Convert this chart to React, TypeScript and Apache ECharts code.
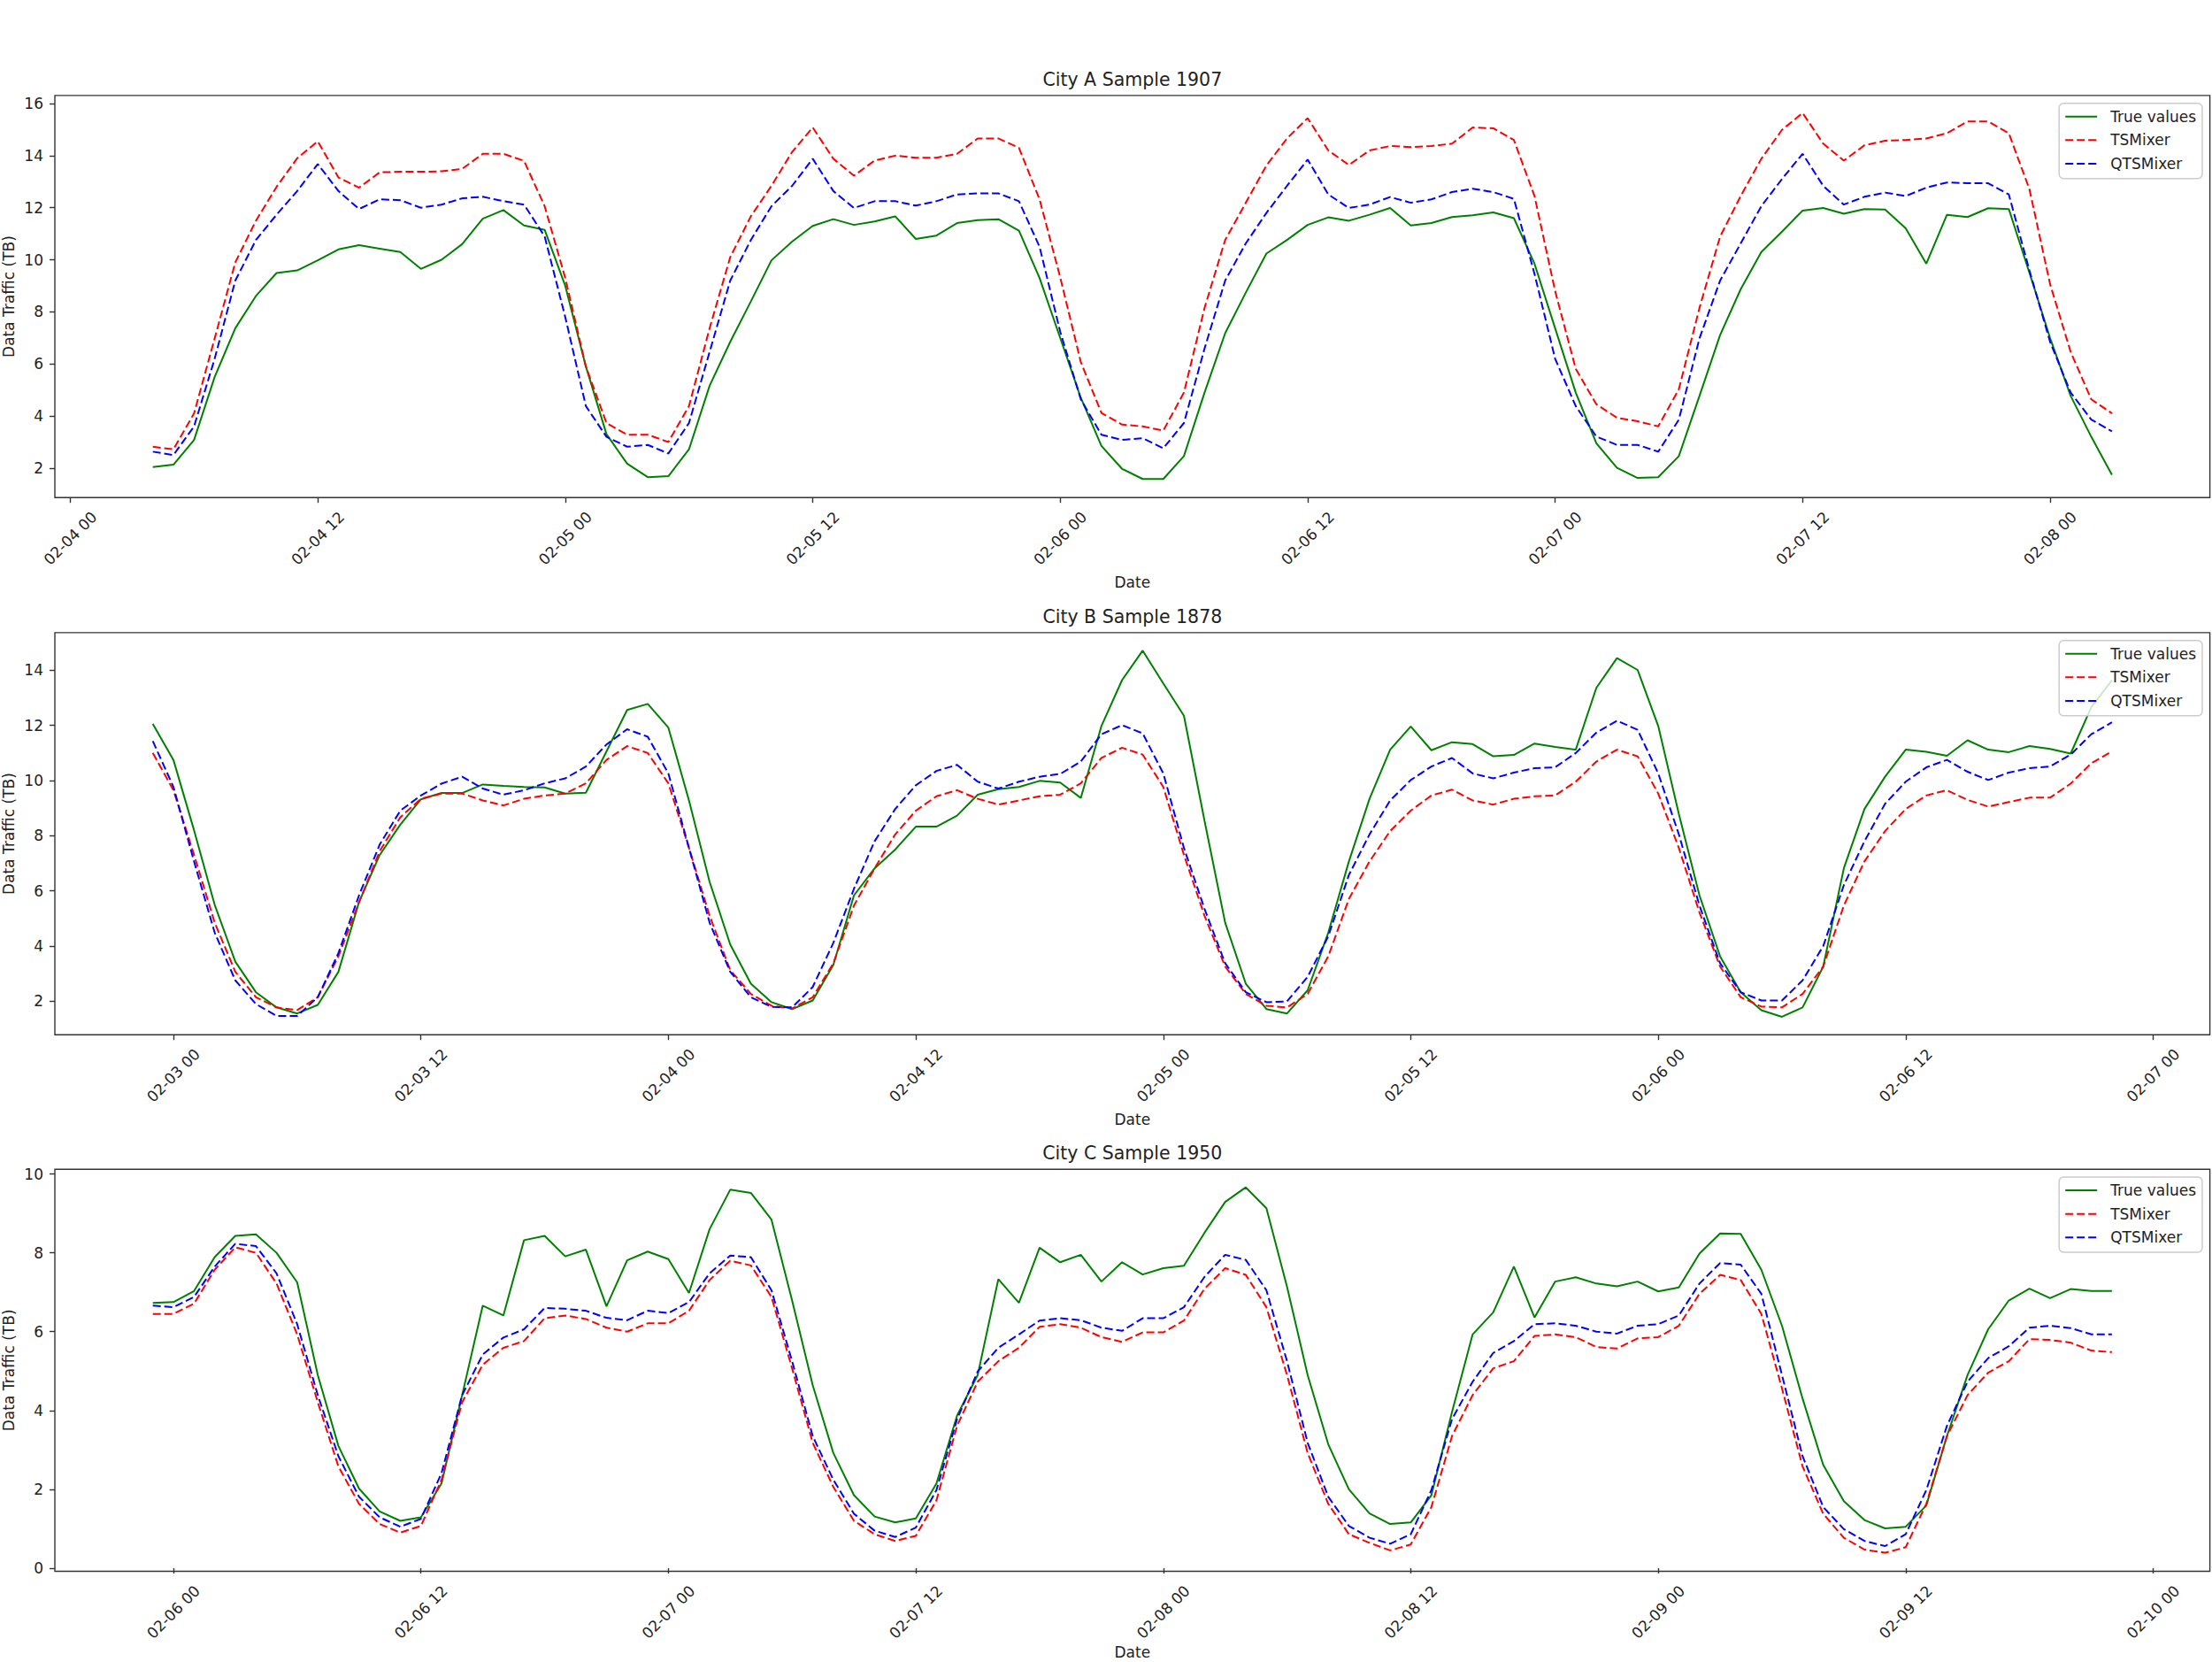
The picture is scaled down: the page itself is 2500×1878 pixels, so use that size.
import React, { useEffect, useRef } from 'react';
import * as echarts from 'echarts';

const FONT = 'DejaVu Sans';
const SERIES_NAMES = ['True values', 'TSMixer', 'QTSMixer'];
const SERIES_COLORS = ['#008000', '#ff0000', '#0000ff'];
const PANEL_TITLES = ['City A Sample 1907', 'City B Sample 1878', 'City C Sample 1950'];
// first hourly timestamp of each panel, in hours after 02-01 00:00
const START_HOURS = [76, 47, 119];
const Y_TICKS = [
  [2, 4, 6, 8, 10, 12, 14, 16],
  [2, 4, 6, 8, 10, 12, 14],
  [0, 2, 4, 6, 8, 10],
];
const Y_LIMITS = [
  [0.868, 16.31],
  [0.79, 15.36],
  [-0.08, 10.12],
];

// ---- City A ----
const A_TRUE = [
  2.04, 2.13, 3.08, 5.5, 7.37, 8.61, 9.49, 9.59, 9.98, 10.4,
  10.56, 10.43, 10.3, 9.65, 10.0, 10.6, 11.58, 11.91, 11.32, 11.15,
  9.0, 5.9, 3.3, 2.17, 1.65, 1.69, 2.72, 5.16, 6.85, 8.4,
  9.98, 10.7, 11.3, 11.56, 11.34, 11.47, 11.67, 10.8, 10.93, 11.41,
  11.52, 11.56, 11.12, 9.3, 7.0, 4.7, 2.85,
  1.97, 1.58, 1.58, 2.46, 4.9, 7.18, 8.74, 10.24, 10.76, 11.34,
  11.63, 11.5, 11.73, 11.99, 11.32, 11.41, 11.64, 11.71, 11.82, 11.6,
  9.85, 7.37, 4.9, 2.95, 2.01, 1.62, 1.65, 2.46, 4.77, 7.11,
  8.87, 10.3, 11.08, 11.89, 11.99, 11.77, 11.95, 11.93, 11.21, 9.85,
  11.73, 11.64, 11.98, 11.95, 9.5, 7.0, 4.77, 3.2, 1.74,
];
const A_TSMIXER = [
  2.82, 2.72, 4.1, 6.98, 9.9, 11.5, 12.8, 13.9, 14.55, 13.16,
  12.77, 13.36, 13.38, 13.38, 13.4, 13.49, 14.07, 14.07, 13.8, 12.06,
  9.3, 5.9, 3.73, 3.28, 3.28, 3.0, 4.38, 7.37, 10.1, 11.67,
  12.84, 14.14, 15.08, 13.88, 13.23, 13.81, 14.0, 13.92, 13.92, 14.07,
  14.66, 14.66, 14.3, 12.32, 9.33, 6.07, 4.12,
  3.67, 3.6, 3.44, 4.9, 8.15, 10.76, 12.19, 13.62, 14.66, 15.44,
  14.2, 13.64, 14.2, 14.37, 14.33, 14.37, 14.46, 15.08, 15.05, 14.6,
  12.45, 8.8, 5.81, 4.45, 3.93, 3.8, 3.6, 5.03, 8.15, 10.89,
  12.45, 13.88, 14.99, 15.64, 14.46, 13.81, 14.4, 14.57, 14.6, 14.66,
  14.86, 15.31, 15.31, 14.86, 12.71, 9.07, 6.46, 4.64, 4.1,
];
const A_QTSMIXER = [
  2.63, 2.5, 3.6, 6.2, 9.2, 10.76, 11.73, 12.64, 13.68, 12.64,
  11.95, 12.32, 12.29, 12.0, 12.12, 12.36, 12.42, 12.25, 12.12, 10.9,
  7.8, 4.38, 3.2, 2.82, 2.89, 2.56, 3.73, 6.46, 9.2, 10.76,
  12.06, 12.84, 13.88, 12.64, 11.99, 12.25, 12.25, 12.08, 12.25, 12.51,
  12.55, 12.55, 12.25, 10.5, 7.24, 4.64, 3.28,
  3.08, 3.15, 2.76, 3.73, 6.59, 9.2, 10.63, 11.8, 12.84, 13.85,
  12.51, 11.99, 12.12, 12.41, 12.19, 12.32, 12.6, 12.73, 12.6, 12.34,
  9.46, 6.2, 4.38, 3.21, 2.89, 2.89, 2.63, 3.86, 6.98, 9.2,
  10.63, 12.06, 13.1, 14.07, 12.84, 12.12, 12.42, 12.58, 12.45, 12.77,
  12.97, 12.94, 12.94, 12.51, 9.59, 6.85, 4.9, 3.86, 3.41,
];

// ---- City B ----
const B_TRUE = [
  12.05, 10.75, 8.2, 5.5, 3.44, 2.33, 1.78, 1.56, 1.87, 3.07,
  5.6, 7.3, 8.4, 9.32, 9.55, 9.55, 9.86, 9.81, 9.77, 9.75,
  9.53, 9.56, 11.06, 12.56, 12.78, 11.92, 9.28, 6.33, 4.06, 2.64,
  1.97, 1.72, 2.03, 3.32, 5.84, 6.82, 7.5, 8.33, 8.33, 8.73,
  9.49, 9.69, 9.77, 9.99, 9.93, 9.37, 11.98,
  13.64, 14.71, 13.52, 12.35, 8.54, 4.85, 2.64, 1.72, 1.56, 2.4,
  4.49, 7.07, 9.34, 11.12, 11.96, 11.1, 11.39, 11.32, 10.88, 10.93,
  11.34, 11.22, 11.12, 13.36, 14.44, 14.01, 11.98, 8.79, 5.84, 3.63,
  2.33, 1.68, 1.44, 1.78, 3.26, 6.82, 8.97, 10.14, 11.12, 11.04,
  10.9, 11.46, 11.12, 11.03, 11.25, 11.15, 10.98, 12.66, 13.64,
];
const B_TSMIXER = [
  11.0, 9.65, 7.31, 4.85, 3.07, 2.15, 1.78, 1.68, 2.15, 3.63,
  5.59, 7.44, 8.67, 9.34, 9.53, 9.53, 9.28, 9.1, 9.34, 9.46,
  9.53, 9.9, 10.75, 11.25, 11.0, 9.9, 7.56, 5.1, 3.13, 2.27,
  1.84, 1.74, 2.15, 3.38, 5.47, 6.82, 8.05, 8.91, 9.43, 9.65,
  9.34, 9.13, 9.28, 9.43, 9.49, 9.9, 10.82,
  11.19, 10.94, 9.77, 7.31, 5.1, 3.26, 2.27, 1.84, 1.78, 2.27,
  3.63, 5.71, 7.07, 8.17, 8.91, 9.46, 9.67, 9.28, 9.13, 9.34,
  9.43, 9.46, 9.96, 10.69, 11.12, 10.88, 9.53, 7.56, 5.22, 3.26,
  2.15, 1.81, 1.78, 2.27, 3.26, 5.47, 7.07, 8.17, 8.97, 9.46,
  9.65, 9.3, 9.06, 9.22, 9.38, 9.38, 9.89, 10.63, 11.06,
];
const B_QTSMIXER = [
  11.43, 9.77, 7.07, 4.49, 2.76, 1.9, 1.47, 1.47, 2.15, 3.75,
  5.84, 7.68, 8.91, 9.46, 9.89, 10.14, 9.71, 9.49, 9.65, 9.9,
  10.08, 10.51, 11.31, 11.86, 11.59, 10.26, 7.56, 4.85, 3.07, 2.15,
  1.8, 1.78, 2.52, 4.12, 6.08, 7.8, 8.97, 9.83, 10.35, 10.57,
  9.96, 9.71, 9.96, 10.14, 10.24, 10.69, 11.68,
  12.01, 11.71, 10.26, 7.56, 5.35, 3.38, 2.33, 1.97, 2.0, 2.89,
  4.36, 6.58, 8.05, 9.28, 10.02, 10.51, 10.82, 10.26, 10.08, 10.29,
  10.45, 10.48, 11.0, 11.74, 12.17, 11.84, 10.26, 8.05, 5.47, 3.38,
  2.33, 2.03, 2.03, 2.76, 4.0, 6.21, 7.8, 9.16, 9.96, 10.48,
  10.75, 10.32, 10.02, 10.29, 10.45, 10.51, 10.94, 11.68, 12.11,
];

// ---- City C ----
const C_TRUE = [
  6.73, 6.75, 7.03, 7.89, 8.43, 8.47, 8.0, 7.25, 4.9, 3.1,
  2.02, 1.44, 1.2, 1.29, 2.15, 4.39, 6.66, 6.41, 8.32, 8.43,
  7.91, 8.08, 6.64, 7.81, 8.03, 7.84, 6.98, 8.6, 9.6, 9.52,
  8.84, 6.79, 4.64, 2.92, 1.85, 1.31, 1.16, 1.26, 2.15, 3.87,
  4.9, 7.33, 6.73, 8.13, 7.76, 7.95, 7.27,
  7.76, 7.45, 7.61, 7.67, 8.51, 9.29, 9.66, 9.13, 7.14, 4.9,
  3.14, 2.0, 1.39, 1.12, 1.16, 1.85, 3.96, 5.93, 6.49, 7.65,
  6.36, 7.27, 7.38, 7.22, 7.15, 7.27, 7.02, 7.12, 7.98, 8.49,
  8.48, 7.57, 6.15, 4.3, 2.62, 1.7, 1.22, 1.01, 1.05, 1.59,
  3.35, 4.9, 6.06, 6.79, 7.09, 6.85, 7.08, 7.03, 7.03,
];
const C_TSMIXER = [
  6.45, 6.45, 6.71, 7.57, 8.14, 8.0, 7.22, 5.93, 4.21, 2.58,
  1.63, 1.12, 0.9, 1.07, 2.24, 4.21, 5.16, 5.59, 5.76, 6.34,
  6.41, 6.32, 6.1, 6.0, 6.21, 6.21, 6.53, 7.31, 7.8, 7.68,
  6.88, 5.07, 3.18, 2.06, 1.2, 0.86, 0.69, 0.82, 1.72, 3.61,
  4.73, 5.25, 5.59, 6.12, 6.19, 6.1, 5.86,
  5.74, 5.98, 5.98, 6.28, 7.09, 7.61, 7.44, 6.62, 4.9, 2.92,
  1.63, 0.86, 0.64, 0.45, 0.6, 1.55, 3.35, 4.39, 5.07, 5.25,
  5.89, 5.93, 5.86, 5.61, 5.57, 5.83, 5.86, 6.15, 6.96, 7.44,
  7.31, 6.45, 4.56, 2.58, 1.38, 0.77, 0.47, 0.39, 0.53, 1.63,
  3.35, 4.39, 4.96, 5.25, 5.81, 5.79, 5.72, 5.52, 5.48,
];
const C_QTSMIXER = [
  6.66, 6.62, 6.88, 7.65, 8.23, 8.17, 7.48, 6.19, 4.39, 2.84,
  1.81, 1.29, 1.05, 1.25, 2.41, 4.39, 5.42, 5.85, 6.06, 6.6,
  6.58, 6.53, 6.35, 6.29, 6.53, 6.47, 6.75, 7.48, 7.93, 7.89,
  7.05, 5.25, 3.35, 2.24, 1.38, 0.95, 0.79, 1.03, 1.98, 3.78,
  4.99, 5.59, 5.93, 6.28, 6.34, 6.29, 6.1,
  6.02, 6.34, 6.34, 6.62, 7.39, 7.95, 7.82, 7.05, 5.25, 3.18,
  1.81, 1.07, 0.77, 0.62, 0.86, 1.98, 3.78, 4.73, 5.46, 5.76,
  6.19, 6.21, 6.15, 6.0, 5.95, 6.15, 6.19, 6.41, 7.22, 7.74,
  7.7, 6.96, 4.9, 2.84, 1.55, 0.99, 0.69, 0.56, 0.86, 1.98,
  3.61, 4.73, 5.33, 5.63, 6.1, 6.15, 6.09, 5.93, 5.93,
];

const PANELS = [
  [A_TRUE, A_TSMIXER, A_QTSMIXER],
  [B_TRUE, B_TSMIXER, B_QTSMIXER],
  [C_TRUE, C_TSMIXER, C_QTSMIXER],
];

const pad2 = (n: number) => (n < 10 ? '0' + n : '' + n);
const hourLabel = (v: number) => {
  const h = Math.round(v);
  const day = 1 + Math.floor(h / 24);
  return `02-${pad2(day)} ${pad2(h % 24)}`;
};

function buildOption() {
  const gridLeft = 62;
  const gridWidth = 2435.6;
  const gridTops = [107.9, 714.9, 1321.2];
  const gridHeight = 454.3;
  const axisColor = '#333333';
  const textColor = '#222222';

  const grids: any[] = [];
  const xAxes: any[] = [];
  const yAxes: any[] = [];
  const series: any[] = [];
  const legends: any[] = [];
  const graphics: any[] = [];

  PANELS.forEach((panel, p) => {
    const start = START_HOURS[p];
    const n = panel[0].length;
    const span = n - 1;
    const xMin = start - span * 0.05;
    const xMax = start + span + span * 0.05;
    const xTicks: number[] = [];
    for (let t = Math.ceil(xMin / 12) * 12; t <= xMax; t += 12) xTicks.push(t);
    const top = gridTops[p];

    grids.push({
      left: gridLeft,
      top,
      width: gridWidth,
      height: gridHeight,
      show: true,
      borderColor: axisColor,
      borderWidth: 1.4,
      backgroundColor: 'transparent',
    });

    xAxes.push({
      type: 'value',
      gridIndex: p,
      min: xMin,
      max: xMax,
      axisLine: { show: false },
      splitLine: { show: false },
      axisTick: {
        show: true,
        customValues: xTicks,
        length: 6,
        lineStyle: { color: axisColor, width: 1.4 },
      },
      axisLabel: {
        customValues: xTicks,
        formatter: (v: number) => hourLabel(v),
        rotate: 45,
        align: 'center',
        verticalAlign: 'middle',
        margin: 46,
        fontSize: 17,
        fontFamily: FONT,
        color: textColor,
      },
    });

    yAxes.push({
      type: 'value',
      gridIndex: p,
      min: Y_LIMITS[p][0],
      max: Y_LIMITS[p][1],
      axisLine: { show: false },
      splitLine: { show: false },
      axisTick: {
        show: true,
        customValues: Y_TICKS[p],
        length: 6,
        lineStyle: { color: axisColor, width: 1.4 },
      },
      axisLabel: {
        customValues: Y_TICKS[p],
        formatter: (v: number) => String(Math.round(v)),
        margin: 13,
        fontSize: 17,
        fontFamily: FONT,
        color: textColor,
      },
    });

    panel.forEach((values, s) => {
      series.push({
        type: 'line',
        name: SERIES_NAMES[s],
        xAxisIndex: p,
        yAxisIndex: p,
        data: values.map((v, i) => [start + i, v]),
        symbol: 'none',
        showSymbol: false,
        color: SERIES_COLORS[s],
        itemStyle: { color: SERIES_COLORS[s] },
        lineStyle: {
          color: SERIES_COLORS[s],
          width: 2,
          type: s === 0 ? 'solid' : [9, 4],
        },
        z: 2 + s,
      });
    });

    legends.push({
      orient: 'vertical',
      right: 11,
      top: top + 8.8,
      itemWidth: 36,
      itemHeight: 14,
      itemGap: 8.65,
      padding: [6, 7, 7.7, 6],
      backgroundColor: 'rgba(255,255,255,0.8)',
      borderColor: '#cccccc',
      borderWidth: 1.5,
      borderRadius: 5,
      selectedMode: false,
      itemStyle: { opacity: 0, borderWidth: 0 },
      lineStyle: { width: 2 },
      textStyle: {
        fontSize: 17,
        fontFamily: FONT,
        color: textColor,
        lineHeight: 18,
        padding: [0, 0, 0, 10],
      },
      data: SERIES_NAMES,
      z: 10,
    });

    const cx = gridLeft + gridWidth / 2;
    graphics.push({
      type: 'text',
      x: cx,
      y: top - 18,
      style: {
        text: PANEL_TITLES[p],
        fontSize: 20.5,
        fontFamily: FONT,
        fill: textColor,
        align: 'center',
        verticalAlign: 'middle',
        textAlign: 'center',
        textVerticalAlign: 'middle',
      },
    });
    graphics.push({
      type: 'text',
      x: cx,
      y: Math.min(top + gridHeight + 95.8, 1867),
      style: {
        text: 'Date',
        fontSize: 17,
        fontFamily: FONT,
        fill: textColor,
        align: 'center',
        verticalAlign: 'middle',
        textAlign: 'center',
        textVerticalAlign: 'middle',
      },
    });
    graphics.push({
      type: 'text',
      x: 9.5,
      y: top + gridHeight / 2,
      rotation: Math.PI / 2,
      style: {
        text: 'Data Traffic (TB)',
        fontSize: 17,
        fontFamily: FONT,
        fill: textColor,
        align: 'center',
        verticalAlign: 'middle',
        textAlign: 'center',
        textVerticalAlign: 'middle',
      },
    });
  });

  return {
    animation: false,
    backgroundColor: '#ffffff',
    textStyle: { fontFamily: FONT },
    grid: grids,
    xAxis: xAxes,
    yAxis: yAxes,
    legend: legends,
    series,
    graphic: { elements: graphics },
  };
}

export default function App() {
  const ref = useRef<HTMLDivElement>(null);
  useEffect(() => {
    if (!ref.current) return;
    const chart = echarts.init(ref.current, null, { renderer: 'svg' });
    chart.setOption(buildOption() as any);
    return () => chart.dispose();
  }, []);
  return (
    <div
      ref={ref}
      style={{ position: 'absolute', left: 0, top: 0, width: 2500, height: 1878, background: '#fff' }}
    />
  );
}
